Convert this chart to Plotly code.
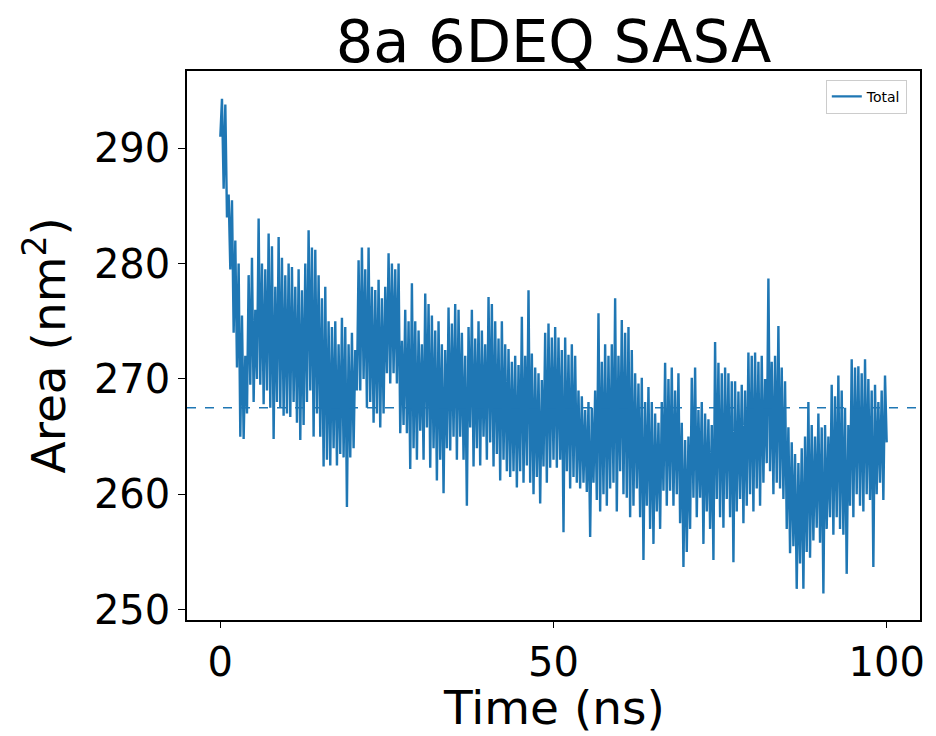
import numpy as np
import plotly.graph_objects as go

# Time axis (ns), one sample every 0.25 ns
time_ns = np.linspace(0, 100, 401)

# SASA values (nm^2), in 10-ns blocks of 40 samples
area_00_10 = [291.0, 294.3, 286.5, 293.8, 284.0, 286.0, 279.5, 285.5, 274.0, 282.0,
              271.0, 280.0, 265.0, 275.5, 264.8, 272.0, 267.0, 279.0, 269.5, 280.5,
              268.0, 276.0, 270.0, 283.9, 269.5, 280.0, 267.8, 279.5, 269.0, 282.6,
              267.5, 281.5, 264.8, 278.0, 268.0, 282.3, 267.5, 280.5, 266.8, 279.0]
area_10_20 = [267.0, 280.0, 266.7, 279.7, 268.0, 278.0, 266.2, 279.5, 264.7, 277.7,
              266.0, 280.0, 268.0, 282.9, 269.0, 281.4, 265.0, 281.2, 267.0, 279.0,
              265.0, 277.0, 262.4, 278.0, 263.0, 275.0, 262.5, 274.5, 264.0, 275.0,
              262.5, 273.0, 263.5, 275.3, 263.2, 274.5, 258.9, 273.0, 263.2, 274.0]
area_20_30 = [264.0, 272.5, 269.0, 280.3, 269.0, 281.4, 270.0, 279.5, 267.5, 281.4,
              268.0, 278.0, 266.2, 277.7, 267.0, 278.6, 265.8, 277.0, 267.0, 278.0,
              270.5, 280.9, 269.6, 280.0, 270.5, 279.5, 269.6, 280.0, 265.3, 273.3,
              266.0, 276.0, 265.3, 275.0, 262.2, 278.3, 264.0, 275.0, 263.0, 274.2]
area_30_40 = [265.5, 273.0, 263.0, 277.4, 265.8, 276.5, 262.3, 275.5, 264.0, 274.2,
              261.2, 275.0, 263.0, 273.0, 260.1, 272.5, 264.0, 276.2, 263.8, 274.8,
              265.0, 276.5, 263.0, 276.0, 265.0, 274.0, 263.0, 272.0, 259.0, 274.5,
              265.8, 276.0, 262.4, 273.5, 264.0, 275.0, 262.5, 274.2, 265.0, 273.0]
area_40_50 = [263.0, 277.1, 264.5, 276.5, 262.4, 275.0, 263.5, 273.5, 261.2, 275.0,
              263.0, 273.0, 262.0, 272.6, 261.5, 271.5, 262.0, 272.0, 260.6, 271.2,
              262.0, 275.4, 261.0, 272.0, 262.5, 277.7, 261.0, 272.2, 260.0, 271.0,
              261.5, 270.5, 259.2, 269.9, 262.4, 274.0, 261.0, 274.8, 262.3, 273.6]
area_50_60 = [263.0, 274.5, 262.3, 273.6, 263.0, 272.5, 256.7, 273.6, 262.0, 272.1,
              260.5, 273.0, 261.5, 272.0, 261.0, 269.0, 260.5, 268.5, 261.0, 267.3,
              260.2, 268.0, 256.3, 267.5, 261.0, 269.0, 259.5, 275.7, 258.5, 271.5,
              260.0, 273.0, 259.0, 272.0, 260.5, 273.0, 261.0, 277.0, 258.5, 272.0]
area_60_70 = [262.0, 275.1, 260.0, 274.0, 259.7, 274.5, 258.0, 272.5, 259.0, 270.5,
              260.5, 269.6, 258.0, 270.1, 254.3, 268.0, 259.0, 269.3, 257.0, 268.0,
              255.7, 267.0, 258.5, 266.2, 257.0, 268.0, 260.3, 271.4, 259.0, 270.0,
              260.3, 271.0, 259.0, 269.0, 260.0, 270.5, 257.5, 266.2, 253.7, 264.7]
area_70_80 = [255.0, 265.0, 257.0, 270.1, 259.7, 271.0, 258.0, 267.3, 259.7, 268.0,
              255.7, 267.0, 258.5, 266.5, 257.0, 266.0, 254.3, 273.2, 259.6, 271.4,
              258.0, 270.5, 257.1, 271.0, 259.6, 270.5, 258.0, 269.8, 254.1, 269.8,
              258.5, 268.9, 259.6, 269.5, 257.5, 269.0, 259.0, 272.3, 260.0, 272.0]
area_80_90 = [258.5, 272.3, 260.5, 271.5, 259.0, 272.0, 261.0, 270.0, 262.7, 278.7,
              262.0, 271.5, 260.0, 272.0, 261.0, 274.6, 260.5, 271.0, 259.6, 269.8,
              257.0, 265.8, 254.9, 264.5, 255.5, 263.5, 251.8, 262.7, 254.0, 264.0,
              251.8, 265.0, 255.0, 268.0, 254.5, 266.0, 256.0, 265.0, 257.1, 267.0]
area_90_100 = [255.8, 265.8, 251.4, 266.0, 257.0, 265.0, 258.0, 269.5, 256.5, 268.5,
               258.0, 270.3, 257.0, 269.0, 256.5, 267.5, 253.1, 266.0, 259.0, 271.7,
               258.0, 271.0, 260.0, 271.1, 259.0, 270.5, 258.5, 271.7, 260.0, 270.0,
               259.5, 269.0, 253.7, 269.5, 260.0, 268.0, 261.0, 269.0, 259.5, 270.3,
               264.5]

area_total = (area_00_10 + area_10_20 + area_20_30 + area_30_40 + area_40_50 +
              area_50_60 + area_60_70 + area_70_80 + area_80_90 + area_90_100)

mean_area = 267.5  # dashed reference line

x_ticks = [0, 50, 100]
y_ticks = [250, 260, 270, 280, 290]

BLUE = "#1f77b4"
FONT = "DejaVu Sans"
# figure is drawn at an 8px page offset (default body margin)
W, H = 928, 728
L, R, T, B = 179, 16, 63, 116
PW, PH = W - L - R, H - T - B

fig = go.Figure()
fig.add_trace(go.Scatter(
    x=time_ns, y=area_total, mode="lines", name="Total",
    line=dict(color=BLUE, width=2.4),
))
fig.add_shape(type="line", xref="paper", x0=0, x1=1, yref="y",
              y0=mean_area, y1=mean_area,
              line=dict(color=BLUE, width=1.5, dash="dash"))

cx = (L + PW / 2) / W

fig.update_layout(
    width=W, height=H,
    margin=dict(l=L, r=R, t=T, b=B, autoexpand=False),
    paper_bgcolor="white", plot_bgcolor="white",
    font=dict(family=FONT, color="black"),
    title=dict(text="8a 6DEQ SASA", x=cx, xanchor="center",
               y=1 - 33 / H, yanchor="middle", yref="container",
               font=dict(size=59, family=FONT, color="black")),
    showlegend=True,
    legend=dict(x=0.982, y=0.984, xanchor="right", yanchor="top",
                bgcolor="rgba(255,255,255,0.8)", bordercolor="#cccccc",
                borderwidth=1, font=dict(size=14, family=FONT, color="black")),
    annotations=[
        dict(text="Time (ns)", xref="paper", yref="paper", x=0.5,
             y=-(699 - (H - B)) / PH, xanchor="center", yanchor="middle",
             showarrow=False, borderpad=0,
             font=dict(size=47, family=FONT, color="black")),
        dict(text="Area (nm<sup>2</sup>)", xref="paper", yref="paper",
             x=-(L - 37) / PW, y=0.5, xanchor="center", yanchor="middle",
             textangle=-90, showarrow=False, borderpad=0,
             font=dict(size=47, family=FONT, color="black")),
    ],
)
fig.update_xaxes(
    range=[-5, 105], tickvals=x_ticks, ticktext=[str(v) for v in x_ticks],
    ticks="outside", ticklen=6, tickwidth=1.3, tickcolor="black",
    tickfont=dict(size=40, family=FONT, color="black"),
    showline=True, linecolor="black", linewidth=1.5, mirror=True,
    showgrid=False, zeroline=False, automargin=False,
)
fig.update_yaxes(
    range=[249.1, 296.7], tickvals=y_ticks, ticktext=[str(v) for v in y_ticks],
    ticks="outside", ticklen=7, tickwidth=1.3, tickcolor="black",
    tickfont=dict(size=40, family=FONT, color="black"),
    showline=True, linecolor="black", linewidth=1.5, mirror=True,
    showgrid=False, zeroline=False, automargin=False,
)

fig.write_html("out.html")
